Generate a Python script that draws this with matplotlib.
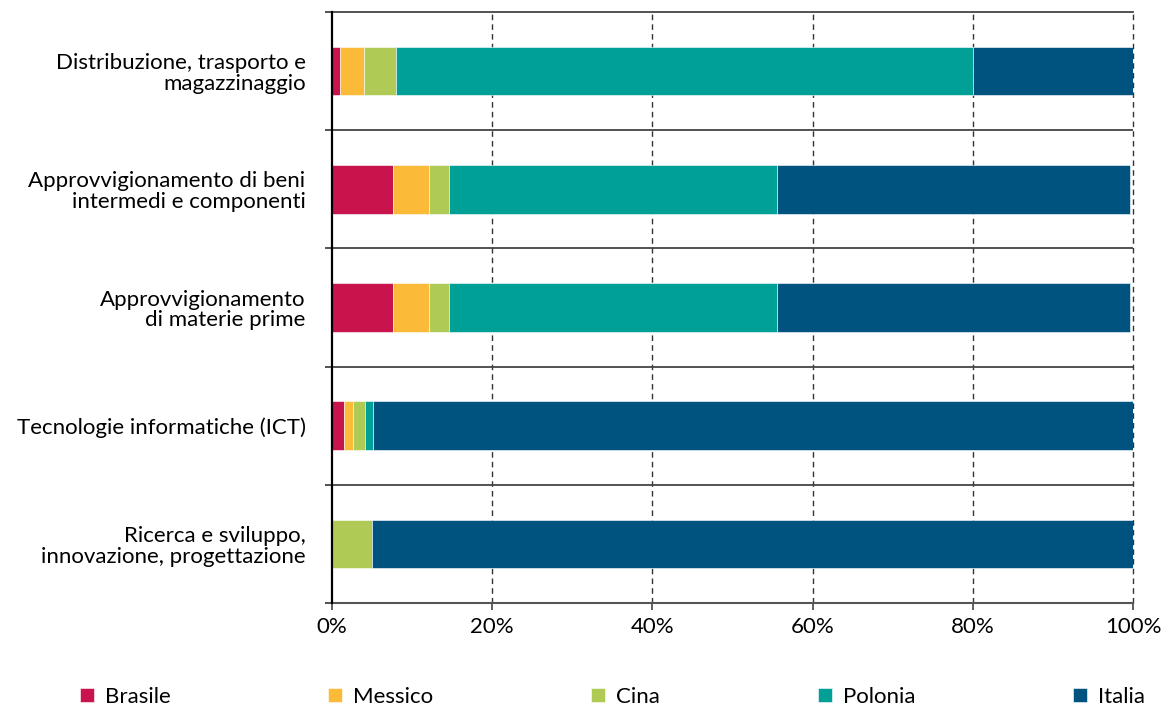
import matplotlib.pyplot as plt
import numpy as np

plt.rcParams['font.family'] = ['Lato', 'DejaVu Sans']

# categories, top to bottom
categories = [
    "Distribuzione, trasporto e\nmagazzinaggio",
    "Approvvigionamento di beni\nintermedi e componenti",
    "Approvvigionamento\ndi materie prime",
    "Tecnologie informatiche (ICT)",
    "Ricerca e sviluppo,\ninnovazione, progettazione",
]
countries = ["Brasile", "Messico", "Cina", "Polonia", "Italia"]
colors = ["#C8134D", "#FBBA37", "#B0CB55", "#00A096", "#00527F"]

# shares in percent, one list per country (same order as categories)
brasile = [1.0, 7.6, 7.6, 1.5, 0.0]
messico = [3.0, 4.5, 4.5, 1.1, 0.0]
cina = [4.0, 2.5, 2.5, 1.5, 5.0]
polonia = [72.0, 41.0, 41.0, 1.0, 0.0]
italia = [20.0, 44.0, 44.0, 94.9, 95.0]
series = [brasile, messico, cina, polonia, italia]

fs = 16

fig = plt.figure(figsize=(11.69, 7.08), dpi=100)
ax = fig.add_axes([332 / 1169, 1 - 603 / 708, (1133 - 332) / 1169, (603 - 12) / 708])

y = np.arange(len(categories))[::-1]
left = np.zeros(len(categories))
for name, vals, col in zip(countries, series, colors):
    vals = np.array(vals)
    ax.barh(y, vals, left=left, height=0.41, color=col, label=name,
            edgecolor='white', linewidth=0.4, zorder=3)
    left += vals

ax.set_xlim(0, 100)
ax.set_ylim(-0.5, len(categories) - 0.5)

# category separators
for b in np.arange(0.5, len(categories) - 0.5):
    ax.axhline(b, color='#444444', linewidth=1.3, zorder=2)

# dashed vertical grid
for xv in [20, 40, 60, 80, 100]:
    ax.axvline(xv, color='#333333', linewidth=1.0, linestyle=(0, (4, 3)),
               zorder=1, clip_on=False)

ax.set_xticks([0, 20, 40, 60, 80, 100])
ax.set_xticklabels([f"{v}%" for v in [0, 20, 40, 60, 80, 100]], fontsize=fs)
ax.tick_params(axis='x', length=5, width=1.2, color='#444444', pad=5)

ax.set_yticks(y)
ax.set_yticklabels(categories, fontsize=fs, linespacing=1.05)
ax.set_yticks(np.arange(-0.5, len(categories)), minor=True)
ax.tick_params(axis='y', which='major', length=0, pad=19)
ax.tick_params(axis='y', which='minor', length=5, width=1.3, color='#444444')

ax.spines['right'].set_visible(False)
ax.spines['top'].set_color('#444444')
ax.spines['top'].set_linewidth(1.3)
ax.spines['bottom'].set_color('#555555')
ax.spines['bottom'].set_linewidth(1.5)
ax.spines['left'].set_color('black')
ax.spines['left'].set_linewidth(1.6)
ax.spines['left'].set_zorder(4)

fig.legend(loc='center left', bbox_to_anchor=(80 / 1169, 11 / 708), ncol=5,
           frameon=False, fontsize=fs, borderpad=0, borderaxespad=0,
           handlelength=0.62, handleheight=0.62, handletextpad=0.5,
           columnspacing=7.1)

fig.savefig('out.png', dpi=100)
